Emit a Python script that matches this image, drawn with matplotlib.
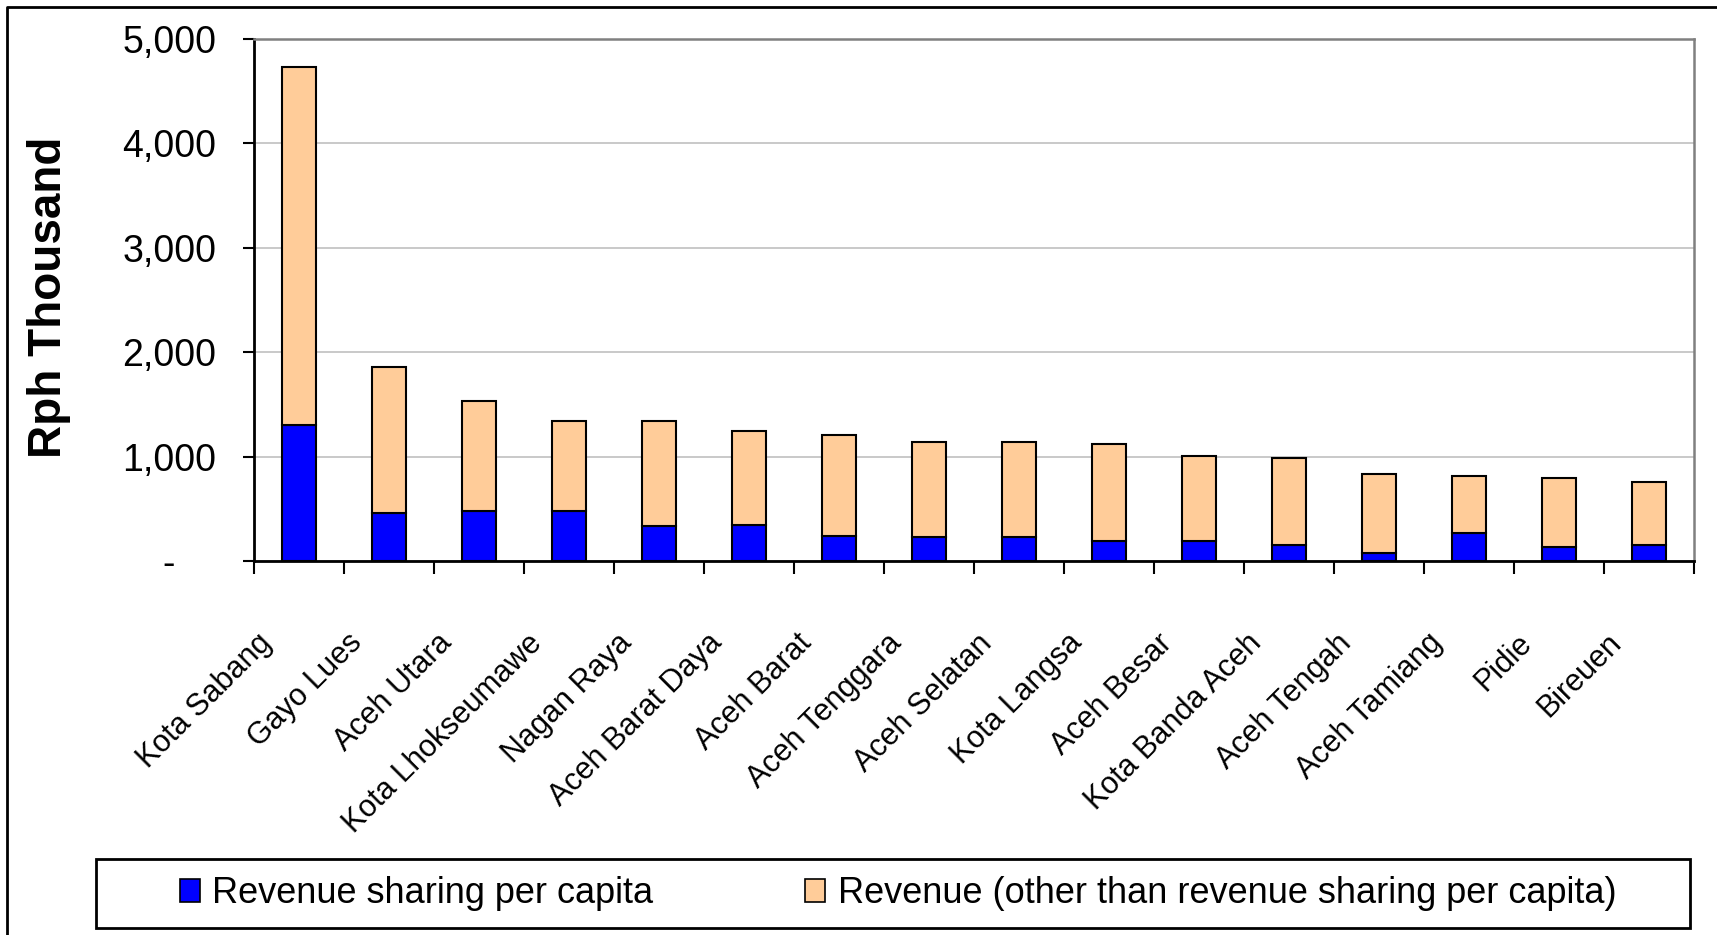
import numpy as np
import matplotlib
matplotlib.use("Agg")
import matplotlib.pyplot as plt
from matplotlib.transforms import ScaledTranslation
from matplotlib.lines import Line2D
from matplotlib.patches import Rectangle, Patch

plt.rcParams['font.family'] = ['Liberation Sans', 'DejaVu Sans']

# Per-capita revenue by district (Rph thousand)
districts = ["Kota Sabang", "Gayo Lues", "Aceh Utara", "Kota Lhokseumawe",
             "Nagan Raya", "Aceh Barat Daya", "Aceh Barat", "Aceh Tenggara",
             "Aceh Selatan", "Kota Langsa", "Aceh Besar", "Kota Banda Aceh",
             "Aceh Tengah", "Aceh Tamiang", "Pidie", "Bireuen"]
revenue_sharing = [1306, 461, 482, 482, 331, 349, 236, 232,
                   232, 194, 194, 155, 77, 271, 135, 155]
revenue_other = [3424, 1402, 1053, 861, 1012, 898, 974, 908,
                 908, 926, 812, 832, 755, 542, 659, 600]
y_ticks = [0, 1000, 2000, 3000, 4000, 5000]
y_tick_labels = ["-    ", "1,000", "2,000", "3,000", "4,000", "5,000"]

W, H = 1717, 935
fig = plt.figure(figsize=(W / 100, H / 100), dpi=100)
ax = fig.add_axes([254 / W, 1 - 561 / H, (1694 - 254) / W, (561 - 39) / H])

x = np.arange(len(districts))
ax.bar(x, revenue_sharing, width=0.38, color="#0000FF",
       edgecolor="black", linewidth=1.5, zorder=3)
ax.bar(x, revenue_other, width=0.38, bottom=revenue_sharing, color="#FFCC99",
       edgecolor="black", linewidth=1.5, zorder=3)

ax.set_xlim(-0.5, len(districts) - 0.5)
ax.set_ylim(0, 5000)

# y axis
ax.set_yticks(y_ticks)
ax.set_yticklabels(y_tick_labels, fontsize=27)
ax.tick_params(axis="y", direction="out", length=8, width=1.5, pad=19)
ax.yaxis.grid(True, color="#c0c0c0", linewidth=1.2, zorder=0)

# x axis: ticks at category boundaries, labels drawn separately
ax.set_xticks(np.arange(-0.5, len(districts), 1.0))
ax.set_xticklabels([])
ax.tick_params(axis="x", direction="out", length=9, width=1.5)

for side in ["left", "bottom"]:
    ax.spines[side].set_color("black")
    ax.spines[side].set_linewidth(2)
for side in ["top", "right"]:
    ax.spines[side].set_color("#808080")
    ax.spines[side].set_linewidth(1.8)

off = ax.get_xaxis_transform() + ScaledTranslation(0, -0.67, fig.dpi_scale_trans)
for i, name in enumerate(districts):
    ax.text(i - 0.47, 0, name, transform=off, rotation=45,
            rotation_mode="anchor", ha="right", va="top", fontsize=22)

fig.text(49 / W, 1 - 297 / H, "Rph Thousand", rotation=90, ha="center",
         va="center", fontsize=33, fontweight="bold")

# legend box
fig.patches.append(Rectangle((96 / W, 1 - 928 / H), (1690 - 96) / W, (928 - 859) / H,
                             transform=fig.transFigure, fill=False,
                             edgecolor="black", linewidth=2))
handles = [Patch(facecolor="#0000FF", edgecolor="black", linewidth=1.2),
           Patch(facecolor="#FFCC99", edgecolor="black", linewidth=1.2)]
fig.legend(handles, ["Revenue sharing per capita",
                     "Revenue (other than revenue sharing per capita)"],
           loc="center", bbox_to_anchor=(898 / W, 1 - 893.5 / H), ncol=2,
           frameon=False, fontsize=26, handlelength=0.55, handleheight=0.6,
           handletextpad=0.35, columnspacing=4.2)

# outer border (left and top edges)
fig.lines.append(Line2D([7 / W, 7 / W, 1], [0, 1 - 7 / H, 1 - 7 / H],
                        transform=fig.transFigure, color="black", linewidth=2))

fig.savefig("out.png", dpi=100, facecolor="white")
